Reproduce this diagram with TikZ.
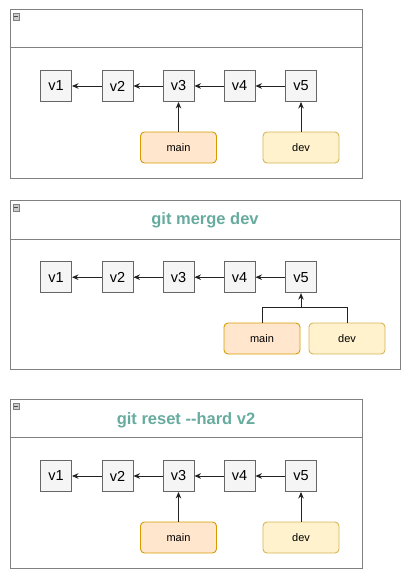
\documentclass[tikz,border=0pt]{standalone}
\usepackage{fontspec}
\setmainfont{Liberation Sans}
\usetikzlibrary{arrows.meta}
\definecolor{boxfill}{HTML}{F5F5F5}
\definecolor{boxdraw}{HTML}{666666}
\definecolor{mainfill}{HTML}{FFE6CC}
\definecolor{maindraw}{HTML}{D79B00}
\definecolor{devfill}{HTML}{FFF2CC}
\definecolor{devdraw}{HTML}{D6B656}
\definecolor{titlecol}{HTML}{67AB9F}
\definecolor{panelline}{HTML}{808080}
\definecolor{edgecol}{HTML}{222222}
\newcommand\commitrow[2]{%
  \node[commit] (#11) at (56,#2) {v1};
  \node[commit] (#12) at (117.5,#2) {v2};
  \node[commit] (#13) at (178.5,#2) {v3};
  \node[commit] (#14) at (239.5,#2) {v4};
  \node[commit] (#15) at (301,#2) {v5};
  \draw[arr] (#12) -- (#11);
  \draw[arr] (#13) -- (#12);
  \draw[arr] (#14) -- (#13);
  \draw[arr] (#15) -- (#14);
}
\newcommand\panelicon[3]{%
  \node[icon] (#1) at (#2,#3) {};
  \draw[line width=0.8pt, draw=black!70] ([xshift=1.3pt]#1.west) -- ([xshift=-1.3pt]#1.east);
}
\begin{document}
\begin{tikzpicture}[x=1pt,y=-1pt,
 commit/.style={draw=boxdraw, fill=boxfill, line width=0.9pt, minimum width=31pt, minimum height=31pt, inner sep=0pt, font=\fontsize{14.5}{16}\selectfont},
 branch/.style={rounded corners=4pt, line width=0.9pt, minimum width=76pt, minimum height=31pt, inner sep=0pt, font=\fontsize{11}{13}\selectfont},
 mainb/.style={branch, draw=maindraw, fill=mainfill},
 devb/.style={branch, draw=devdraw, fill=devfill},
 panel/.style={draw=panelline, line width=1pt},
 title/.style={font=\bfseries\fontsize{16.5}{19}\selectfont, text=titlecol},
 arr/.style={-{Stealth[length=6.5pt,width=5.5pt]}, line width=0.9pt, draw=edgecol},
 link/.style={line width=0.9pt, draw=edgecol},
 icon/.style={draw=gray, fill=gray!40, minimum size=6.5pt, inner sep=0pt, line width=0.5pt}
]
\useasboundingbox (0,0) rectangle (409,579);
% panel 1
\draw[panel] (10,9.5) rectangle (362,178);
\draw[panel] (10,47.5) -- (362,47.5);
\panelicon{ia}{16}{16.5}
\commitrow{a}{86}
\node[mainb] (am) at (178.5,147.5) {main};
\node[devb] (ad) at (301,147.5) {dev};
\draw[arr] (am) -- (a3);
\draw[arr] (ad) -- (a5);
% panel 2
\draw[panel] (10,200.7) rectangle (400,369);
\draw[panel] (10,239) -- (400,239);
\panelicon{ib}{16}{207.5}
\node[title] (tb) at (205,220.7) {git merge dev};
\commitrow{b}{277.2}
\node[mainb] (bm) at (262,338.5) {main};
\node[devb] (bd) at (347,338.5) {dev};
\coordinate (bj) at (301,307.7);
\draw[link] (bm.north) |- (bj);
\draw[link] (bd.north) |- (bj);
\draw[arr] (bj) -- (b5.south);
% panel 3
\draw[panel] (10,399.3) rectangle (362,568);
\draw[panel] (10,437.7) -- (362,437.7);
\panelicon{ic}{16}{406.3}
\node[title] (tc) at (186,420) {git reset -{}-hard v2};
\commitrow{c}{476}
\node[mainb] (cm) at (178.5,537.5) {main};
\node[devb] (cd) at (301,537.5) {dev};
\draw[arr] (cm) -- (c3);
\draw[arr] (cd) -- (c5);
\end{tikzpicture}
\end{document}
